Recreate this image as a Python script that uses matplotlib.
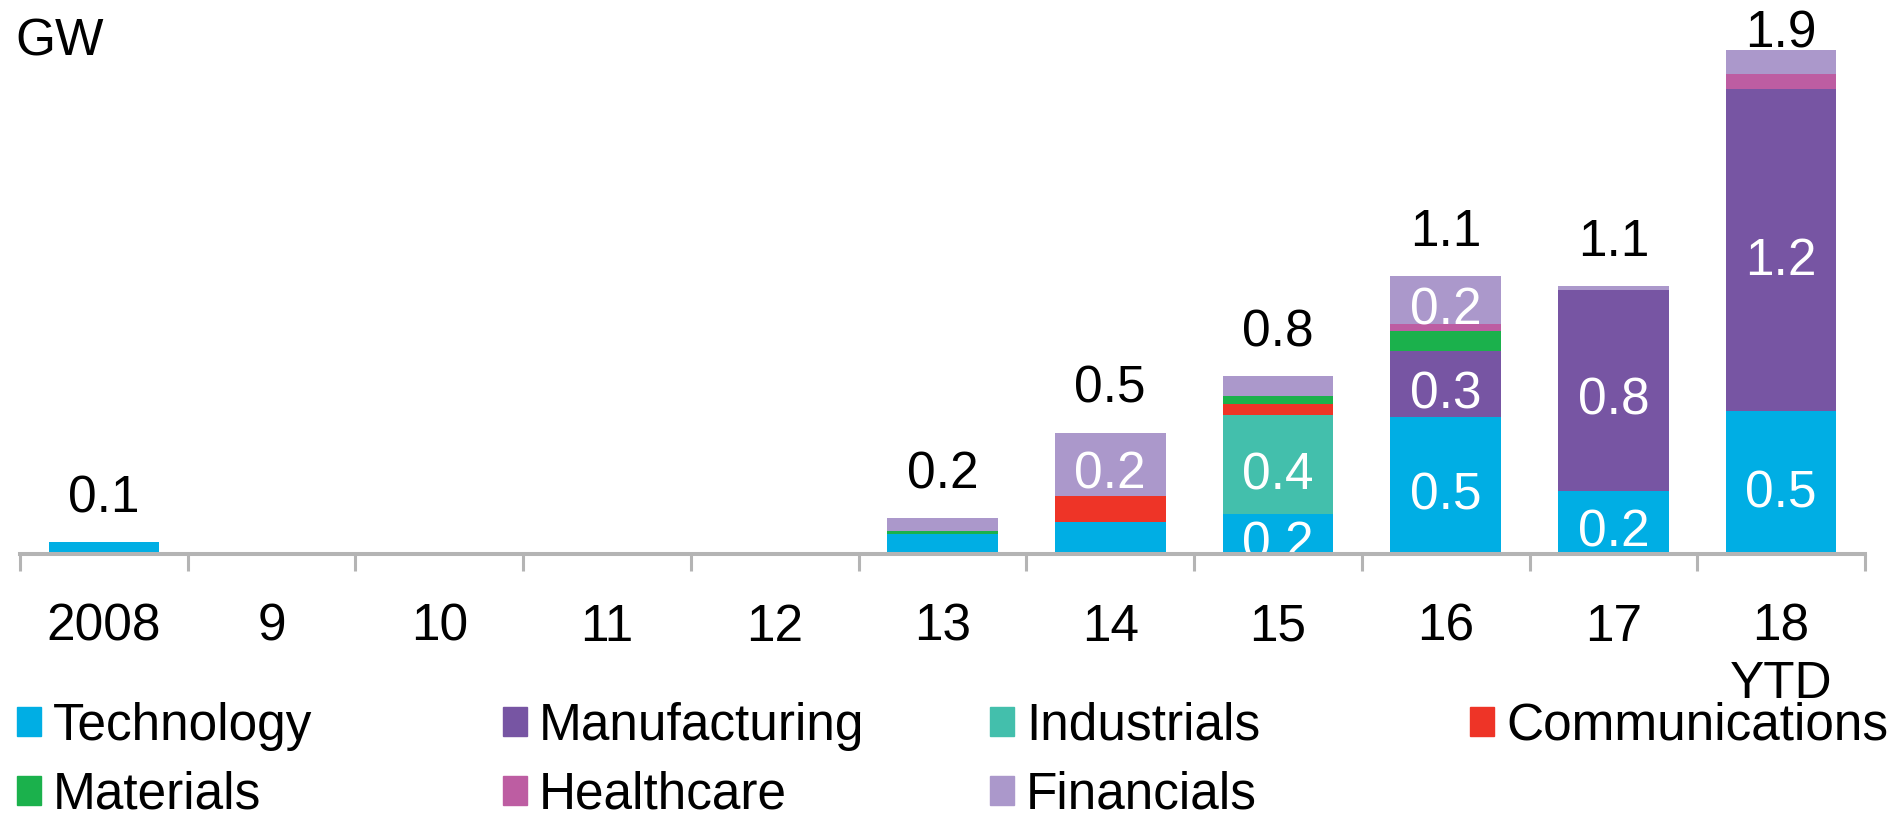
import matplotlib.pyplot as plt
import matplotlib.patches as mpatches
import numpy as np

plt.rcParams['font.family'] = ['Liberation Sans', 'DejaVu Sans']

# data (GW)
years = ["2008", "9", "10", "11", "12", "13", "14", "15", "16", "17", "18\nYTD"]
technology = [0.045, 0, 0, 0, 0, 0.075, 0.12, 0.15, 0.52, 0.24, 0.54]
manufacturing = [0, 0, 0, 0, 0, 0, 0, 0, 0.25, 0.76, 1.22]
industrials = [0, 0, 0, 0, 0, 0, 0, 0.375, 0, 0, 0]
communications = [0, 0, 0, 0, 0, 0, 0.10, 0.042, 0, 0, 0]
materials = [0, 0, 0, 0, 0, 0.0125, 0, 0.031, 0.073, 0, 0]
healthcare = [0, 0, 0, 0, 0, 0, 0, 0, 0.029, 0, 0.06]
financials = [0, 0, 0, 0, 0, 0.048, 0.24, 0.075, 0.18, 0.015, 0.09]

# labels as printed on the chart
total_labels = ["0.1", "", "", "", "", "0.2", "0.5", "0.8", "1.1", "1.1", "1.9"]
technology_labels = ["", "", "", "", "", "", "", "0.2", "0.5", "0.2", "0.5"]
manufacturing_labels = ["", "", "", "", "", "", "", "", "0.3", "0.8", "1.2"]
industrials_labels = ["", "", "", "", "", "", "", "0.4", "", "", ""]
financials_labels = ["", "", "", "", "", "", "0.2", "", "0.2", "", ""]

series = [
    ("Technology", technology, "#00AEE4", technology_labels),
    ("Manufacturing", manufacturing, "#7755A3", manufacturing_labels),
    ("Industrials", industrials, "#43BFAC", industrials_labels),
    ("Communications", communications, "#EE3427", None),
    ("Materials", materials, "#1BB14C", None),
    ("Healthcare", healthcare, "#BD5DA2", None),
    ("Financials", financials, "#AB98CB", financials_labels),
]

FS = 37
GRAY = "#B4B4B4"

fig = plt.figure(figsize=(18.99, 8.19), dpi=100)
ax = fig.add_axes([20 / 1899, 1 - 554 / 819, 1845 / 1899, 528 / 819])

x = np.arange(len(years))
bottom = np.zeros(len(years))
handles = {}
for name, vals, color, labels in series:
    vals = np.array(vals, dtype=float)
    ax.bar(x, vals, 0.66, bottom=bottom, color=color, linewidth=0, label=name)
    handles[name] = mpatches.Patch(color=color, label=name)
    if labels is not None:
        for i, lab in enumerate(labels):
            if lab:
                mid = bottom[i] + vals[i] / 2
                ax.annotate(lab, xy=(i, mid), xytext=(0, -17.6), textcoords='offset points',
                            ha='center', va='baseline', color='white', fontsize=FS)
    bottom += vals

# totals above the bars
for i, lab in enumerate(total_labels):
    if lab:
        y = min(bottom[i] + 0.114, 1.92)
        ax.text(i, y, lab, ha='center', va='baseline', fontsize=FS, color='black')

ax.set_xlim(-0.5, len(years) - 0.5)
ax.set_ylim(0, 2.0)
for s in ['top', 'left', 'right']:
    ax.spines[s].set_visible(False)
ax.spines['bottom'].set_color(GRAY)
ax.spines['bottom'].set_linewidth(2.9)
ax.spines['bottom'].set_zorder(10)
ax.set_yticks([])
ax.set_xticks(x)
ax.set_xticklabels(years, fontsize=FS, linespacing=1.22)
ax.set_xticks(np.arange(-0.5, len(years)), minor=True)
ax.tick_params(axis='x', which='major', length=0, pad=35)
ax.tick_params(axis='x', which='minor', length=12.2, width=2.2, color=GRAY, direction='out')

fig.text(15 / 1899, 1 - 55 / 819, "GW", fontsize=FS, va='baseline', ha='left')

# legend laid out in fixed-width columns
columns = [["Technology", "Materials"], ["Manufacturing", "Healthcare"],
           ["Industrials", "Financials"], ["Communications"]]
col_x = [17, 503, 990, 1470]
for names, cx in zip(columns, col_x):
    fig.legend(handles=[handles[n] for n in names], loc='upper left',
               bbox_to_anchor=(cx / 1899, 1 - 702 / 819), frameon=False,
               fontsize=FS, handlelength=0.47, handleheight=0.5, handletextpad=0.23,
               borderpad=0, borderaxespad=0, labelspacing=0.38)

fig.savefig("out.png", dpi=100)
